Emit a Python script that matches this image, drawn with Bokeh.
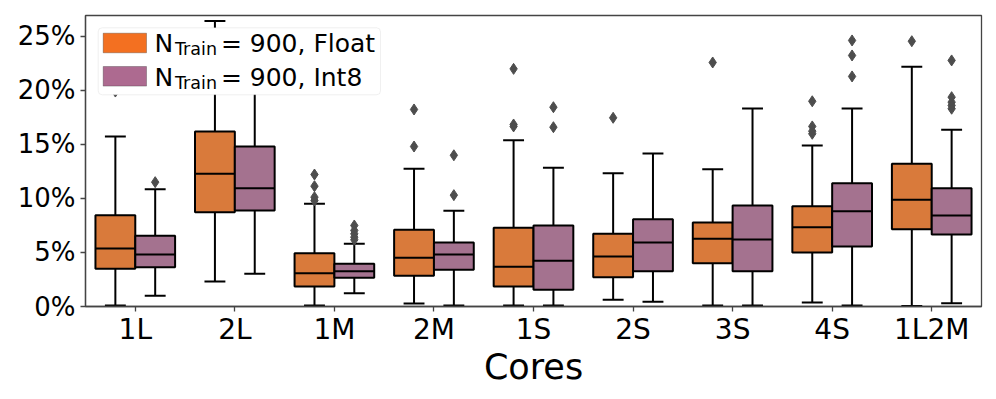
import numpy as np
from bokeh.plotting import figure
from bokeh.models import Range1d, FixedTicker, PrintfTickFormatter, BoxAnnotation, Label
from bokeh.embed import file_html
from bokeh.resources import INLINE

# ---------------- data (percent) ----------------
categories = ["1L", "2L", "1M", "2M", "1S", "2S", "3S", "4S", "1L2M"]
series_names = ["Float", "Int8"]
n_train = 900

float_whislo = [0.1, 2.31, 0.1, 0.28, 0.1, 0.62, 0.1, 0.37, 0.05]
float_q1 = [3.49, 8.73, 1.85, 2.84, 1.85, 2.71, 4.01, 5.0, 7.16]
float_med = [5.37, 12.29, 3.08, 4.51, 3.68, 4.63, 6.27, 7.34, 9.88]
float_q3 = [8.45, 16.2, 4.94, 7.1, 7.29, 6.73, 7.78, 9.29, 13.21]
float_whishi = [15.74, 26.42, 9.51, 12.75, 15.4, 12.34, 12.71, 14.91, 22.19]
float_outliers = [[19.9], [], [12.22, 11.14, 10.12, 9.81], [18.24, 14.81],
                  [22.0, 16.85, 16.67], [17.47], [22.59],
                  [19.0, 16.67, 16.23, 15.99], [24.56]]

int8_whislo = [0.99, 3.03, 1.23, 0.1, 0.1, 0.44, 0.1, 0.1, 0.31]
int8_q1 = [3.64, 8.89, 2.66, 3.4, 1.55, 3.27, 3.27, 5.56, 6.67]
int8_med = [4.81, 10.95, 3.27, 4.81, 4.23, 5.93, 6.2, 8.82, 8.43]
int8_q3 = [6.55, 14.81, 3.95, 5.93, 7.5, 8.08, 9.35, 11.42, 10.95]
int8_whishi = [10.86, 22.5, 5.81, 8.86, 12.84, 14.17, 18.33, 18.33, 16.36]
int8_outliers = [[11.51], [], [7.5, 7.04, 6.73, 6.42, 6.18], [14.0, 10.31],
                 [18.45, 16.6], [], [], [24.63, 23.24, 21.3],
                 [22.78, 19.38, 18.92, 18.61, 18.31]]

y_ticks = [0, 5, 10, 15, 20, 25]

# ---------------- styles ----------------
FONT = "DejaVu Sans"
box_colors = ["#d97a3b", "#a4728f"]
legend_colors = ["#f37021", "#ad6a90"]
X0, X1 = -0.5, len(categories) - 0.5
Y0, Y1 = 0.0, 26.94
FRAME_W, FRAME_H = 896, 291

p = figure(width=996, height=399, output_backend="svg", toolbar_location=None,
           x_range=Range1d(X0, X1), y_range=Range1d(Y0, Y1),
           min_border_left=85, min_border_right=15, min_border_top=15, min_border_bottom=93)
p.background_fill_color = "white"
p.border_fill_color = "white"
p.grid.visible = False
p.outline_line_color = "#444444"
p.outline_line_width = 1.3

series = [
    (float_whislo, float_q1, float_med, float_q3, float_whishi, float_outliers),
    (int8_whislo, int8_q1, int8_med, int8_q3, int8_whishi, int8_outliers),
]
offsets = [-0.2, 0.2]
box_w = 0.4
cap_w = 0.21

idx = np.arange(len(categories))
for (wlo, q1, med, q3, whi, outl), off, col in zip(series, offsets, box_colors):
    xc = idx + off
    p.segment(x0=xc, y0=q3, x1=xc, y1=whi, line_color="black", line_width=2)
    p.segment(x0=xc, y0=wlo, x1=xc, y1=q1, line_color="black", line_width=2)
    p.segment(x0=xc - cap_w / 2, y0=whi, x1=xc + cap_w / 2, y1=whi, line_color="black", line_width=2)
    p.segment(x0=xc - cap_w / 2, y0=wlo, x1=xc + cap_w / 2, y1=wlo, line_color="black", line_width=2)
    p.vbar(x=xc, width=box_w, top=q3, bottom=q1, fill_color=col, line_color="black", line_width=2)
    p.segment(x0=xc - box_w / 2, y0=med, x1=xc + box_w / 2, y1=med, line_color="black", line_width=2)
    ox = [x for x, o in zip(xc, outl) for _ in o]
    oy = [v for o in outl for v in o]
    p.scatter(x=ox, y=oy, marker="diamond", size=11, fill_color="#4d4d4d", line_color="#4d4d4d")

# ---------------- axes ----------------
p.xaxis.ticker = FixedTicker(ticks=list(idx))
p.xaxis.major_label_overrides = {int(i): c for i, c in enumerate(categories)}
p.yaxis.ticker = FixedTicker(ticks=y_ticks)
p.yaxis.formatter = PrintfTickFormatter(format="%d%%")
for ax in (p.xaxis[0], p.yaxis[0]):
    ax.axis_line_color = "#444444"
    ax.axis_line_width = 1.3
    ax.major_tick_line_color = "#444444"
    ax.major_tick_line_width = 1.3
    ax.major_tick_in = 0
    ax.major_tick_out = 5
    ax.minor_tick_line_color = None
    ax.major_label_text_font = FONT
    ax.major_label_text_color = "black"
p.xaxis.major_label_text_font_size = "28px"
p.yaxis.major_label_text_font_size = "26px"
p.xaxis.major_label_standoff = 1
p.yaxis.major_label_standoff = 5
p.xaxis.axis_label = "Cores"
p.xaxis.axis_label_text_font = FONT
p.xaxis.axis_label_text_font_size = "35px"
p.xaxis.axis_label_text_font_style = "normal"
p.xaxis.axis_label_text_color = "black"
p.xaxis.axis_label_standoff = -2


# ---------------- legend (manual, for the subscript) ----------------
def dx(px):
    return X0 + px / FRAME_W * (X1 - X0)


def dy(py):
    return Y1 - py / FRAME_H * (Y1 - Y0)


MAIN_FS, SUB_FS = 25.0, 17.5
MID = 0.346  # baseline-to-middle distance of DejaVu Sans, in em

p.add_layout(BoxAnnotation(left=dx(12.7), right=dx(295), top=dy(12.3), bottom=dy(79.3),
                           fill_color="white", fill_alpha=1.0, line_color="#cccccc",
                           line_width=1, border_radius=4))
row_tops = [17.7, 51.0]
gap = "\u00a0" * 6
for k, (name, col) in enumerate(zip(series_names, legend_colors)):
    top = row_tops[k]
    p.add_layout(BoxAnnotation(left=dx(17.7), right=dx(61), top=dy(top), bottom=dy(top + 19.6),
                               fill_color=col, fill_alpha=1, line_color="#222222", line_width=1))
    base = top + 19.3
    p.add_layout(Label(x=dx(69), y=dy(base - MID * MAIN_FS), text=f"N{gap}= {n_train}, {name}",
                       text_font=FONT, text_font_size=f"{MAIN_FS}px", text_color="black",
                       text_baseline="middle", text_align="left"))
    p.add_layout(Label(x=dx(89.5), y=dy(base + 2.8 - MID * SUB_FS), text="Train", text_font=FONT,
                       text_font_size=f"{SUB_FS}px", text_color="black",
                       text_baseline="middle", text_align="left"))

open("out.html", "w").write(file_html(p, INLINE))
